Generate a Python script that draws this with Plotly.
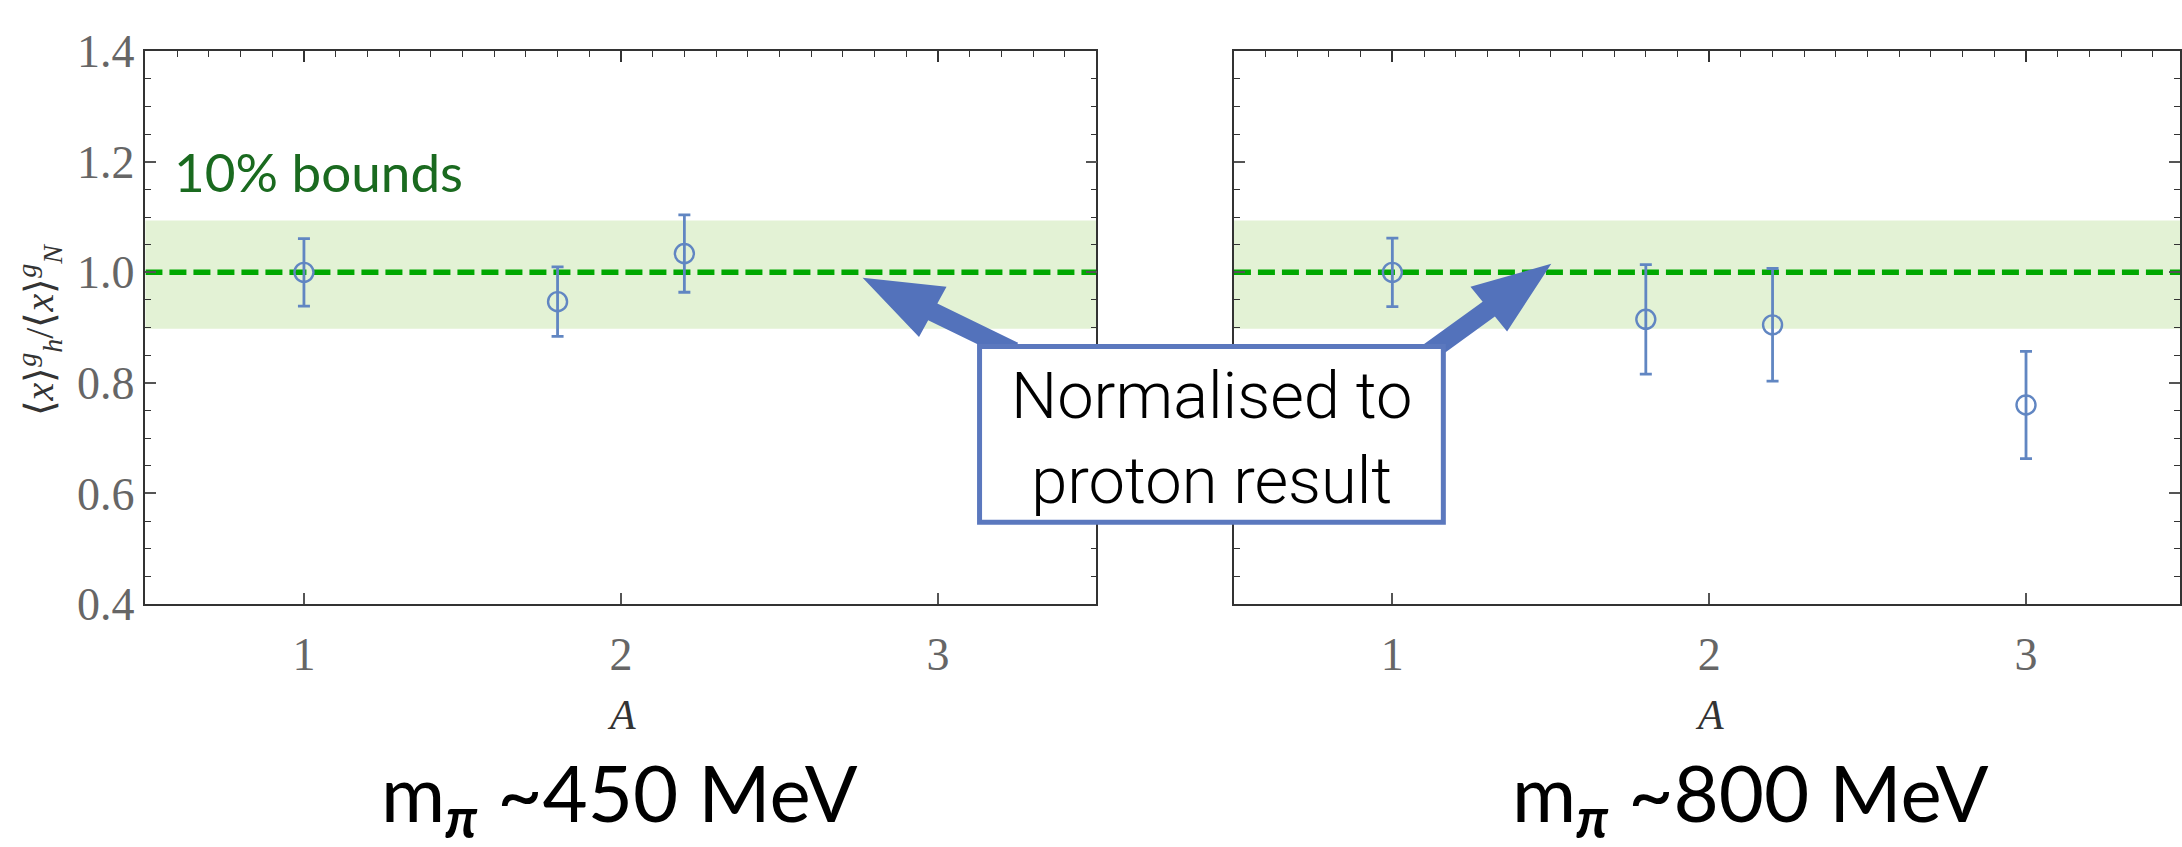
import plotly.graph_objects as go

W, H = 2182, 847

# ---------------- data ----------------
A_450 = [1.0, 1.8, 2.2]
ratio_450 = [1.000, 0.947, 1.034]
err_450 = [0.061, 0.063, 0.070]

A_800 = [1.0, 1.8, 2.2, 3.0]
ratio_800 = [1.000, 0.915, 0.905, 0.760]
err_800 = [0.062, 0.099, 0.102, 0.097]

band_lo, band_hi = 0.898, 1.094
ref_value = 1.0
x_tick_vals = [1, 2, 3]
y_tick_vals = [0.4, 0.6, 0.8, 1.0, 1.2, 1.4]
panel_titles = ["m<sub><b><i>π</i></b></sub> ~450 MeV", "m<sub><b><i>π</i></b></sub> ~800 MeV"]
band_label = "10% bounds"
box_label = "Normalised to<br>proton result"
x_title = "<i>A</i>"
y_title = "⟨<i>x</i>⟩<sup><i>g</i></sup><sub><i>h</i></sub>/⟨<i>x</i>⟩<sup><i>g</i></sup><sub><i>N</i></sub>"

# ---------------- styling ----------------
PT_COLOR = "#6186c2"
ARROW_COLOR = "#5372bb"
BAND_COLOR = "#e3f2d5"
DASH_COLOR = "#00a800"
AXIS_COLOR = "#333333"
TICKFONT = dict(family="Liberation Serif", size=46, color="#666666")


def px(x):
    return x / W


def py(y):
    return 1 - y / H


ydom = [py(616), py(28)]
xdom1 = [px(145.5), px(1097)]
xdom2 = [px(1234.5), px(2181)]
xr1 = [0.5, 3.5]
xr2 = [0.5, 3.486]

fig = go.Figure()

# dashed reference lines (drawn as traces under points)
for xa, xr in (("x", xr1), ("x2", xr2)):
    fig.add_trace(go.Scatter(
        x=xr, y=[ref_value, ref_value], xaxis=xa, yaxis="y" if xa == "x" else "y2",
        mode="lines", line=dict(color=DASH_COLOR, width=5.5, dash="17px,7px"),
        hoverinfo="skip", showlegend=False))

for xs, ys, es, xa, ya in ((A_450, ratio_450, err_450, "x", "y"),
                           (A_800, ratio_800, err_800, "x2", "y2")):
    fig.add_trace(go.Scatter(
        x=xs, y=ys, xaxis=xa, yaxis=ya, mode="markers",
        marker=dict(symbol="circle-open", size=19, color=PT_COLOR, line=dict(width=2.4, color=PT_COLOR)),
        error_y=dict(type="data", array=es, visible=True, color=PT_COLOR, thickness=2.8, width=6),
        showlegend=False, hoverinfo="skip"))

# invisible traces to realise the top overlay axes
for xa, ya in (("x3", "y"), ("x4", "y2")):
    fig.add_trace(go.Scatter(x=[1], y=[1], xaxis=xa, yaxis=ya, mode="markers",
                             marker=dict(opacity=0), showlegend=False, hoverinfo="skip"))

common_x = dict(tickvals=x_tick_vals, ticks="inside", ticklen=11, tickwidth=1.5, tickcolor="#555",
                showline=True, linecolor=AXIS_COLOR, linewidth=1.6, showgrid=False, zeroline=False,
                tickfont=TICKFONT, ticklabelstandoff=9)
top_x = dict(tickvals=x_tick_vals, ticks="inside", ticklen=11, tickwidth=1.5, tickcolor="#333",
             showline=True, linecolor=AXIS_COLOR, linewidth=1.6, showgrid=False, zeroline=False,
             showticklabels=False, side="top",
             minor=dict(tickmode="linear", tick0=0, dtick=0.1, ticks="inside", ticklen=6,
                        tickwidth=1.2, tickcolor="#333"))
common_y = dict(range=[0.4, 1.4], tickvals=y_tick_vals, tickformat=".1f", ticks="inside", ticklen=11,
                tickwidth=1.5, tickcolor="#555", showline=True, linecolor=AXIS_COLOR, linewidth=1.6,
                mirror="ticks", showgrid=False, zeroline=False, domain=ydom,
                minor=dict(tickmode="linear", tick0=0, dtick=0.05, ticks="inside", ticklen=6,
                           tickwidth=1.2, tickcolor="#333"))

shapes = []
# green bands
for xa, ya in (("x", "y"), ("x2", "y2")):
    shapes.append(dict(type="rect", xref=f"{xa} domain", yref=ya, x0=0, x1=1, y0=band_lo, y1=band_hi,
                       fillcolor=BAND_COLOR, line=dict(width=0), layer="below"))


def arrow_path(tail, tip, shaft_w=20, head_len=79, head_hw=30):
    tx, ty = tail
    hx, hy = tip
    dx, dy = hx - tx, hy - ty
    L = (dx * dx + dy * dy) ** 0.5
    ux, uy = dx / L, dy / L
    vx, vy = -uy, ux
    hw = shaft_w / 2
    jx, jy = hx - ux * head_len, hy - uy * head_len
    pts = [
        (tx + vx * hw, ty + vy * hw),
        (jx + vx * hw, jy + vy * hw),
        (jx + vx * head_hw, jy + vy * head_hw),
        (hx, hy),
        (jx - vx * head_hw, jy - vy * head_hw),
        (jx - vx * hw, jy - vy * hw),
        (tx - vx * hw, ty - vy * hw),
    ]
    return "M " + " L ".join(f"{px(x):.5f},{py(y):.5f}" for x, y in pts) + " Z"


shapes.append(dict(type="path", xref="paper", yref="paper", path=arrow_path((1014, 347), (863, 269)),
                   fillcolor=ARROW_COLOR, line=dict(width=0), layer="above"))
shapes.append(dict(type="path", xref="paper", yref="paper", path=arrow_path((1425, 352), (1552, 254)),
                   fillcolor=ARROW_COLOR, line=dict(width=0), layer="above"))
# label box
shapes.append(dict(type="rect", xref="paper", yref="paper", x0=px(980), x1=px(1444), y0=py(529), y1=py(342),
                   fillcolor="white", line=dict(color="#5b78be", width=5), layer="above"))

annotations = [
    dict(text=band_label, xref="paper", yref="paper", x=px(172), y=py(156), xanchor="left", yanchor="middle",
         showarrow=False, font=dict(family="Lato", size=53, color="#1a6a1f")),
    dict(text=box_label, xref="paper", yref="paper", x=px(1212), y=py(440), xanchor="center", yanchor="middle",
         showarrow=False, align="center", font=dict(family="Roboto", size=65, color="black", weight=300)),
    dict(text=x_title, xref="paper", yref="paper", x=px(622), y=py(734), xanchor="center", yanchor="middle",
         showarrow=False, font=dict(family="Liberation Serif", size=42, color="#333")),
    dict(text=x_title, xref="paper", yref="paper", x=px(1710), y=py(734), xanchor="center", yanchor="middle",
         showarrow=False, font=dict(family="Liberation Serif", size=42, color="#333")),
    dict(text=y_title, xref="paper", yref="paper", x=px(40), y=py(324), xanchor="center", yanchor="middle",
         textangle=-90, showarrow=False, font=dict(family="Liberation Serif", size=40, color="#333")),
    dict(text=panel_titles[0], xref="paper", yref="paper", x=px(620), y=py(822), xanchor="center",
         yanchor="middle", showarrow=False, font=dict(family="Lato", size=78, color="black")),
    dict(text=panel_titles[1], xref="paper", yref="paper", x=px(1751), y=py(822), xanchor="center",
         yanchor="middle", showarrow=False, font=dict(family="Lato", size=78, color="black")),
]

fig.update_layout(
    width=W, height=H, margin=dict(l=0, r=0, t=0, b=0),
    paper_bgcolor="white", plot_bgcolor="white", showlegend=False,
    xaxis=dict(domain=xdom1, range=xr1, anchor="y", **common_x),
    xaxis2=dict(domain=xdom2, range=xr2, anchor="y2", **common_x),
    xaxis3=dict(overlaying="x", range=xr1, anchor="y", **top_x),
    xaxis4=dict(overlaying="x2", range=xr2, anchor="y2", **top_x),
    yaxis=dict(anchor="x", tickfont=TICKFONT, ticklabelstandoff=0, **common_y),
    yaxis2=dict(anchor="x2", showticklabels=False, **common_y),
    shapes=shapes, annotations=annotations,
)

fig.write_html("out.html")
